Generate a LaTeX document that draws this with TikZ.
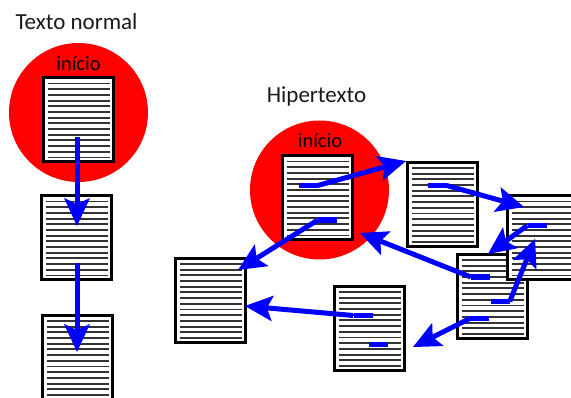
\documentclass[tikz,border=0pt]{standalone}
\usepackage{fontspec}
\setmainfont{Carlito}
\usetikzlibrary{arrows.meta}
\definecolor{linkblue}{RGB}{0,0,255}
\definecolor{startred}{RGB}{255,0,0}
\tikzset{
  page/.style={draw=black, line width=3pt, fill=white, inner sep=0pt,
    minimum width=70pt, minimum height=84pt,
    path picture={
      \foreach \k in {0,...,13}
        \draw[black!80, line width=1.9pt]
          ([xshift=4.5pt, yshift=-5.5pt-\k*5.69pt]path picture bounding box.north west)
          -- ++(62pt,0);
    }},
  linkbox/.style={fill=linkblue, inner sep=0pt, minimum width=19pt, minimum height=5.5pt},
  startzone/.style={fill=startred, draw=none},
  link/.style={draw=linkblue, line width=5pt,
    -{Stealth[length=28pt, width=26pt, inset=6pt, line width=0pt]}},
  heading/.style={font=\fontsize{23}{26}\selectfont, text=black!90, anchor=base},
  startlabel/.style={font=\fontsize{20.5}{24}\selectfont, anchor=base}
}
\begin{document}
\begin{tikzpicture}[x=1pt, y=-1pt]
\useasboundingbox (0,0) rectangle (571,398);

% ---- linear text ----
\node[heading] (tn) at (76.5,30) {Texto normal};
\fill[startzone] (78.5,112.5) circle (69.5);
\node[startlabel] (li) at (78.5,71) {início};
\node[page] (l1) at (78.5,120) {};
\node[page] (l2) at (76.5,238) {};
\node[page] (l3) at (77,357.5) {};
\coordinate (l1out) at (77,137);
\coordinate (l2in)  at (77,226);
\coordinate (l2out) at (77,263);
\coordinate (l3in)  at (77,352);
\draw[link] (l1out) -- (l2in);
\draw[link] (l2out) -- (l3in);

% ---- hypertext ----
\node[heading] (ht) at (316.5,103) {Hipertexto};
\fill[startzone] (319.5,190) circle (69.5);
\node[startlabel] (hi) at (320,148) {início};
\node[page] (h1) at (317.5,198) {};
\node[page] (h2) at (442.5,204.5) {};
\node[page] (h6) at (210,300.5) {};
\node[page] (h5) at (369,328.5) {};
\node[page] (h4) at (492,296.5) {};
\node[page] (h3) at (542.5,238) {};

% link anchors inside the pages
\node[linkbox] (h1a) at (308,185.5) {};
\node[linkbox] (h1b) at (327.5,220) {};
\node[linkbox] (h2a) at (437,185.5) {};
\node[linkbox] (h3a) at (537,225.5) {};
\node[linkbox] (h4a) at (480.5,277) {};
\node[linkbox] (h4b) at (500,301.5) {};
\node[linkbox] (h4c) at (479.5,318.5) {};
\node[linkbox] (h5a) at (363,315.5) {};
\node[linkbox] (h5b) at (378.5,344.5) {};

% link targets
\coordinate (t2) at (524,207);
\coordinate (t3) at (488,254);
\coordinate (t4) at (535,239);
\coordinate (t5) at (360,233);
\coordinate (t6) at (413,347);
\coordinate (t7) at (245,306);
\coordinate (t8) at (238,270);

\draw[link] (h1a.east) -- (h2.north west);
\draw[link] (h2a.east) -- (t2);
\draw[link] (h3a.west) -- (t3);
\draw[link] (h4b.east) -- (t4);
\draw[link] (h4a.west) -- (t5);
\draw[link] (h4c.west) -- (t6);
\draw[link] (h5a.west) -- (t7);
\draw[link] (h1b.west) -- (t8);
\end{tikzpicture}
\end{document}
